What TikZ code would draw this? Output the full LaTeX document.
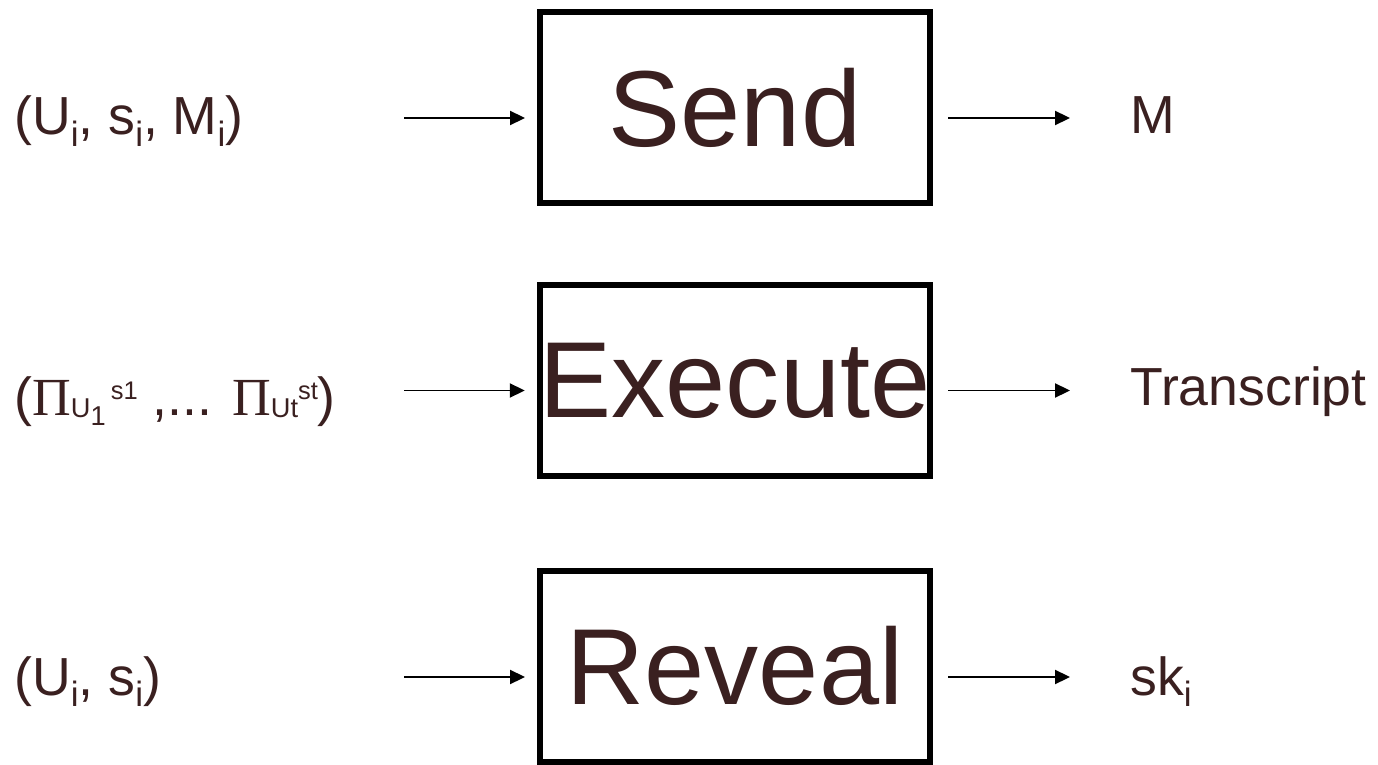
\documentclass[tikz,border=0pt]{standalone}
\usepackage{fontspec}
\setmainfont{Liberation Sans}
\newfontfamily\pifont{Liberation Serif}
\usepackage{tikz}
\usetikzlibrary{arrows.meta,calc}
\definecolor{labelink}{RGB}{58,32,32}
\newcommand{\lowidx}[1]{\raisebox{-6.8pt}{\fontsize{20}{22}\selectfont #1}}
\newcommand{\lowsub}[1]{\raisebox{-1.7pt}{\fontsize{15.5}{17}\selectfont #1}}
\newcommand{\highsup}[1]{\raisebox{9pt}{\fontsize{14.5}{16}\selectfont #1}}
\tikzset{oracle/.style={draw=black, line width=0.12cm, minimum width=7.8cm, minimum height=3.82cm, inner sep=0pt, text=labelink, font=\fontsize{61.5}{70}\selectfont}}
\tikzset{query/.style={anchor=base west, inner sep=0pt, text=labelink, font=\fontsize{30.5}{36}\selectfont}}
\tikzset{call/.style={-{Triangle[length=8.5pt,width=8pt]}, line width=1pt}}
\begin{document}
\begin{tikzpicture}
\useasboundingbox (0,0) rectangle (27.56,-15.30);

% the three oracles
\node (send) at (14.70,-2.15)[oracle]{Send};
\node (exec) at (14.70,-7.61)[oracle]{Execute};
\node (reveal) at (14.70,-13.32)[oracle]{Reveal};

% what goes in
\node (sendArg) at (0.28,-2.70)[query]{(U\lowidx{i}, s\lowidx{i}, M\lowidx{i})};
\node (execArg) at (0.28,-8.30)[query]{({\pifont Π}\lowsub{U\raisebox{-4.5pt}{1}}\hspace{3pt}\highsup{s1} ,... {\pifont Π}\lowsub{Ut}\highsup{st})};
\node (revealArg) at (0.28,-13.90)[query]{(U\lowidx{i}, s\lowidx{i})};

% what comes out
\node (sendRes) at (22.60,-2.68)[query]{M};
\node (execRes) at (22.60,-8.10)[query]{Transcript};
\node (revealRes) at (22.60,-13.90)[query]{sk\lowidx{i}};

\coordinate (sendIn) at (8.08,-2.36);
\coordinate (execIn) at (8.08,-7.81);
\coordinate (revealIn) at (8.08,-13.54);
\coordinate (sendOut) at (21.40,-2.36);
\coordinate (execOut) at (21.40,-7.81);
\coordinate (revealOut) at (21.40,-13.54);

\draw[call, shorten >=0.24cm] (sendIn)--(sendIn -| send.west);
\draw[call, shorten >=0.24cm] (execIn)--(execIn -| exec.west);
\draw[call, shorten >=0.24cm] (revealIn)--(revealIn -| reveal.west);
\draw[call, shorten <=0.30cm] (sendOut -| send.east)--(sendOut);
\draw[call, shorten <=0.30cm] (execOut -| exec.east)--(execOut);
\draw[call, shorten <=0.30cm] (revealOut -| reveal.east)--(revealOut);

\end{tikzpicture}
\end{document}
